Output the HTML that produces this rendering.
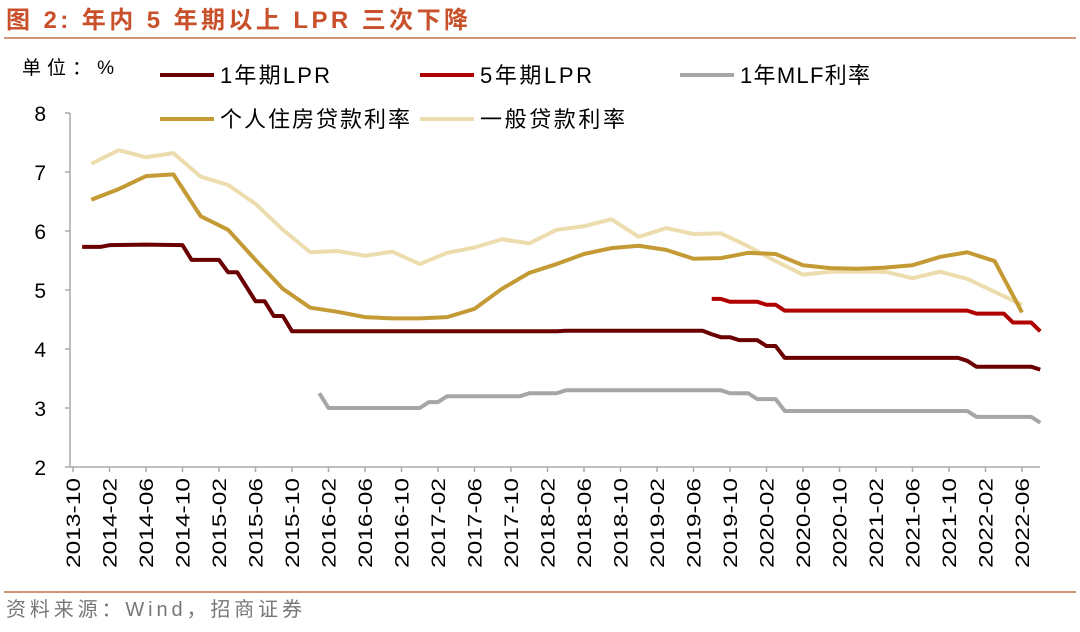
<!DOCTYPE html>
<html><head><meta charset="utf-8"><style>
body{margin:0;background:#fff;width:1080px;height:627px;overflow:hidden;font-family:"Liberation Sans","Noto Sans CJK SC",sans-serif;}
</style></head><body>
<svg id="c" width="1080" height="627" xmlns="http://www.w3.org/2000/svg">
<text x="6" y="28" font-size="24" font-weight="bold" fill="#c8502a" textLength="462" lengthAdjust="spacing" font-family="Liberation Sans, Noto Sans CJK SC, sans-serif">图 2:  年内 5 年期以上 LPR 三次下降</text>
<line x1="4" y1="38" x2="1076" y2="38" stroke="#c0714a" stroke-width="1.5"/>
<text x="22" y="74" font-size="19" fill="#000" textLength="92" lengthAdjust="spacing">单位：%</text>
<line x1="4" y1="592" x2="1076" y2="592" stroke="#c0714a" stroke-width="1.5"/>
<text x="6" y="616" font-size="20" fill="#777" textLength="296" lengthAdjust="spacing">资料来源：Wind，招商证券</text>
<g id="axes"></g><g id="series"></g><g id="legend"></g>
</svg>
<script>
const ticksY=[2,3,4,5,6,7,8];
const tickX=["2013-10","2014-02","2014-06","2014-10","2015-02","2015-06","2015-10","2016-02","2016-06","2016-10","2017-02","2017-06","2017-10","2018-02","2018-06","2018-10","2019-02","2019-06","2019-10","2020-02","2020-06","2020-10","2021-02","2021-06","2021-10","2022-02","2022-06"];
const lpr1Dates=["2013-11","2014-01","2014-02","2014-06","2014-10","2014-11","2015-02","2015-03","2015-04","2015-06","2015-07","2015-08","2015-09","2015-10","2018-03","2018-04","2019-07","2019-08","2019-09","2019-10","2019-11","2019-12","2020-01","2020-02","2020-03","2020-04","2021-11","2021-12","2022-01","2022-07","2022-08"];
const lpr1Vals=[5.73,5.73,5.76,5.77,5.76,5.51,5.51,5.30,5.30,4.81,4.81,4.56,4.56,4.30,4.30,4.31,4.31,4.25,4.20,4.20,4.15,4.15,4.15,4.05,4.05,3.85,3.85,3.80,3.70,3.70,3.65];
const lpr5Dates=["2019-08","2019-09","2019-10","2020-01","2020-02","2020-03","2020-04","2021-12","2022-01","2022-04","2022-05","2022-07","2022-08"];
const lpr5Vals=[4.85,4.85,4.80,4.80,4.75,4.75,4.65,4.65,4.60,4.60,4.45,4.45,4.30];
const mlfDates=["2016-01","2016-02","2016-12","2017-01","2017-02","2017-03","2017-11","2017-12","2018-03","2018-04","2019-09","2019-10","2019-12","2020-01","2020-03","2020-04","2021-12","2022-01","2022-07","2022-08"];
const mlfVals=[3.25,3.00,3.00,3.10,3.10,3.20,3.20,3.25,3.25,3.30,3.30,3.25,3.25,3.15,3.15,2.95,2.95,2.85,2.85,2.75];
const qDates=["2013-12","2014-03","2014-06","2014-09","2014-12","2015-03","2015-06","2015-09","2015-12","2016-03","2016-06","2016-09","2016-12","2017-03","2017-06","2017-09","2017-12","2018-03","2018-06","2018-09","2018-12","2019-03","2019-06","2019-09","2019-12","2020-03","2020-06","2020-09","2020-12","2021-03","2021-06","2021-09","2021-12","2022-03","2022-06"];
const mortgageVals=[6.53,6.71,6.93,6.96,6.25,6.02,5.51,5.02,4.70,4.63,4.54,4.52,4.52,4.54,4.68,5.02,5.29,5.44,5.61,5.71,5.75,5.68,5.53,5.54,5.63,5.61,5.42,5.37,5.36,5.38,5.42,5.56,5.64,5.49,4.62];
const generalVals=[7.14,7.37,7.25,7.32,6.92,6.78,6.46,6.02,5.64,5.66,5.58,5.65,5.44,5.63,5.72,5.86,5.79,6.02,6.08,6.20,5.90,6.05,5.95,5.96,5.74,5.49,5.26,5.31,5.31,5.31,5.20,5.31,5.19,4.97,4.75];

const NS="http://www.w3.org/2000/svg";
const X0=73,PXM=9.125,Y0=467,PXU=59;
function mIdx(d){const[y,m]=d.split("-").map(Number);return (y-2013)*12+(m-10);}
function xS(d){return X0+mIdx(d)*PXM;}
function yS(v){return Y0-(v-2)*PXU;}
function mk(tag,attrs,parent){const e=document.createElementNS(NS,tag);for(const k in attrs)e.setAttribute(k,attrs[k]);parent.appendChild(e);return e;}
const ax=document.getElementById("axes"),sg=document.getElementById("series"),lg=document.getElementById("legend");
let a=mk("line",{x1:70,y1:113,x2:70,y2:467,stroke:"#aaa","stroke-width":1.5},ax);


a=mk("line",{x1:70,y1:467,x2:1040,y2:467,stroke:"#aaa","stroke-width":1.5},ax);


ticksY.forEach(v=>{
  mk("line",{x1:65,y1:yS(v),x2:70,y2:yS(v),stroke:"#aaa","stroke-width":1.5},ax);
  const t=mk("text",{x:46,y:yS(v)+8,"font-size":21,"text-anchor":"end",fill:"#000"},ax);
  t.textContent=v;
  
  
});
tickX.forEach(d=>{
  const x=xS(d);
  mk("line",{x1:x,y1:467,x2:x,y2:472,stroke:"#aaa","stroke-width":1.5},ax);
  const t=mk("text",{x:0,y:0,"font-size":19,"text-anchor":"end",fill:"#000",textLength:90,lengthAdjust:"spacingAndGlyphs",transform:`translate(${x+7},478) rotate(-90)`},ax);
  t.textContent=d;
  
  
});
function line(dates,vals,color,name){
  const p=mk("polyline",{points:dates.map((d,i)=>xS(d)+","+yS(vals[i])).join(" "),fill:"none",stroke:color,"stroke-width":4,"stroke-linejoin":"round"},sg);
  
  
}
line(qDates,generalVals,"#ecdcae","series-general-loan-rate");
line(qDates,mortgageVals,"#c49a35","series-mortgage-rate");
line(mlfDates,mlfVals,"#a6a6a6","series-1y-mlf");
line(lpr1Dates,lpr1Vals,"#6b0000","series-1y-lpr");
line(lpr5Dates,lpr5Vals,"#b00000","series-5y-lpr");
const legItems=[["1年期LPR","#6b0000",160,75,110],["5年期LPR","#b00000",420,75,112],["1年MLF利率","#a6a6a6",680,75,130],["个人住房贷款利率","#c49a35",160,119,190],["一般贷款利率","#ecdcae",420,119,145]];
legItems.forEach(([lab,col,x,y,w])=>{
  const g=mk("g",{},lg);
  
  
  mk("line",{x1:x,y1:y,x2:x+54,y2:y,stroke:col,"stroke-width":4},g);
  const t=mk("text",{x:x+60,y:y+8,"font-size":22,fill:"#000",textLength:w,lengthAdjust:"spacing"},g);
  t.textContent=lab;
});
</script>
</body></html>
